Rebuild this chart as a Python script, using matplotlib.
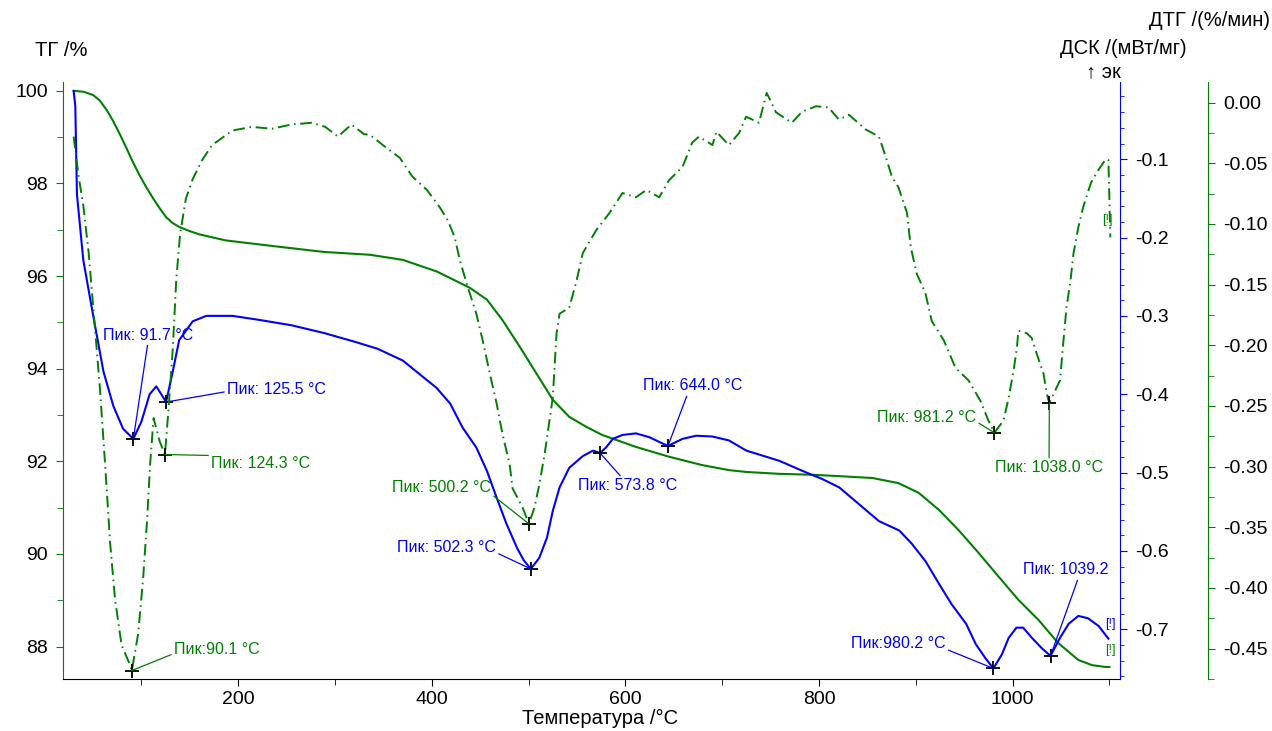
"""
Thermal analysis chart: TG, DSC and DTG against temperature.
Saves out.png (1272x731).
"""

import numpy as np
import matplotlib
matplotlib.use("Agg")
import matplotlib.pyplot as plt
from matplotlib.transforms import Affine2D
from matplotlib.ticker import MultipleLocator, FormatStrFormatter

# ── Colours ─────────────────────────────────────────────────────────────────
GREEN = "#008000"
BLUE = "#0000ff"
BLACK = "#000000"

W, H = 1272, 731

plt.rcParams.update({
    "font.family": ["Liberation Sans", "DejaVu Sans"],
    "axes.unicode_minus": False,
    "font.size": 14,
})

# ── Data ────────────────────────────────────────────────────────────────────
tg_t = [30, 40, 50, 57, 64, 71, 78, 84.6, 91, 98, 105, 112, 119, 125.6, 132,
        139, 150, 160, 187, 235, 289, 336, 370, 405, 439, 457, 473, 491, 508,
        525, 542, 560, 576, 611, 645, 679, 707, 725, 759, 793, 821, 855, 882,
        903, 924, 944, 965, 986, 1006, 1027, 1047, 1068, 1082, 1096, 1100]
tg_val = [100.0, 99.98, 99.91, 99.79, 99.59, 99.34, 99.05, 98.76, 98.47, 98.18,
          97.92, 97.68, 97.46, 97.27, 97.15, 97.06, 96.97, 96.9, 96.77, 96.65,
          96.52, 96.46, 96.35, 96.1, 95.75, 95.49, 95.05, 94.47, 93.9, 93.33,
          92.96, 92.74, 92.57, 92.31, 92.1, 91.92, 91.81, 91.77, 91.73, 91.71,
          91.68, 91.64, 91.53, 91.32, 90.95, 90.52, 90.02, 89.5, 89.01, 88.57,
          88.08, 87.71, 87.6, 87.56, 87.56]

dsc_t = [30, 31.7, 33.4, 40, 50.5, 60.8, 71, 81, 91.7, 100, 108.5, 115.4,
         120.5, 125.5, 132.4, 139, 153, 167, 194, 221, 255, 289, 323, 344,
         370, 405, 419, 432, 446, 457, 467, 477, 488, 495, 502.3, 511, 519,
         525, 532, 542, 556, 566.5, 573.8, 580, 587, 597, 611, 625, 638.6,
         644, 659, 673, 690, 707, 725, 759, 787, 803, 821, 841, 862, 883, 896,
         910, 924, 937, 952, 962, 972, 980.2, 989, 996, 1004, 1011, 1020,
         1030, 1039.2, 1049, 1058, 1068, 1078, 1089, 1099]
dsc_val = [-0.013, -0.032, -0.145, -0.229, -0.302, -0.371, -0.415, -0.444,
           -0.457, -0.435, -0.400, -0.390, -0.400, -0.410, -0.371, -0.331,
           -0.307, -0.300, -0.300, -0.305, -0.312, -0.322, -0.334, -0.342,
           -0.357, -0.392, -0.412, -0.443, -0.468, -0.498, -0.532, -0.565,
           -0.596, -0.612, -0.623, -0.609, -0.583, -0.549, -0.519, -0.494,
           -0.479, -0.472, -0.475, -0.468, -0.457, -0.452, -0.450, -0.455,
           -0.463, -0.466, -0.457, -0.453, -0.454, -0.459, -0.472, -0.485,
           -0.500, -0.508, -0.519, -0.540, -0.562, -0.574, -0.591, -0.613,
           -0.642, -0.668, -0.693, -0.719, -0.737, -0.750, -0.732, -0.711,
           -0.698, -0.698, -0.711, -0.724, -0.734, -0.711, -0.693, -0.683,
           -0.686, -0.696, -0.712]

dtg_t = [30, 35, 40, 45.4, 50.5, 57, 62.5, 67.6, 72.7, 79.5, 88, 90.1, 96.6,
         101.7, 105.8, 109, 112.6, 118.8, 124.3, 127.3, 132.4, 136, 140, 146,
         153, 163, 173, 194, 214, 235, 255, 276, 290, 303, 317, 330, 336,
         349.5, 367, 380, 395, 408, 416.5, 423.7, 429, 436, 446, 452.6, 460,
         467, 473, 480.4, 483.5, 494, 500.2, 506, 511, 516.5, 521.6, 525,
         526.8, 528.9, 532, 542, 549.5, 556, 570, 583.5, 597, 611, 621.6, 635,
         645, 659, 669, 676, 690, 694, 707, 717.5, 724.7, 738, 746, 755.6,
         772, 782.5, 797, 810, 820.6, 831, 848, 862, 869, 875.3, 882, 891,
         894.8, 901, 910, 916.5, 929, 941, 954.6, 967, 975, 981.2, 990.7, 996,
         1001, 1004.5, 1006, 1014.6, 1019.8, 1025, 1032, 1035.4, 1038, 1049,
         1052.6, 1055.7, 1059.8, 1063, 1068, 1073, 1081, 1088.7, 1095.9, 1099,
         1101]
dtg_val = [-0.028, -0.060, -0.085, -0.123, -0.171, -0.234, -0.298, -0.362,
           -0.409, -0.447, -0.463, -0.468, -0.438, -0.393, -0.345, -0.298,
           -0.260, -0.279, -0.290, -0.260, -0.203, -0.146, -0.108, -0.079,
           -0.063, -0.047, -0.035, -0.023, -0.020, -0.0215, -0.018, -0.0166,
           -0.020, -0.028, -0.018, -0.026, -0.0265, -0.035, -0.0455, -0.061,
           -0.072, -0.086, -0.097, -0.111, -0.130, -0.149, -0.174, -0.196,
           -0.2235, -0.248, -0.273, -0.298, -0.318, -0.334, -0.347, -0.334,
           -0.315, -0.290, -0.262, -0.243, -0.218, -0.190, -0.174, -0.169,
           -0.147, -0.124, -0.105, -0.091, -0.0745, -0.078, -0.072, -0.078,
           -0.064, -0.053, -0.033, -0.028, -0.035, -0.024, -0.035, -0.025,
           -0.0116, -0.0166, 0.008, -0.008, -0.0166, -0.0075, -0.003, -0.004,
           -0.014, -0.010, -0.022, -0.028, -0.0447, -0.061, -0.0695, -0.091,
           -0.119, -0.141, -0.157, -0.180, -0.196, -0.2185, -0.229, -0.246,
           -0.262, -0.272, -0.262, -0.243, -0.221, -0.202, -0.188, -0.190,
           -0.194, -0.207, -0.2235, -0.240, -0.2475, -0.229, -0.196, -0.169,
           -0.147, -0.124, -0.1025, -0.086, -0.066, -0.0555, -0.047, -0.047,
           -0.111]

# peak temperatures and their labels
dsc_peaks = [91.7, 125.5, 502.3, 573.8, 644.0, 980.2, 1039.2]
dsc_labels = ["Пик: 91.7 °C", "Пик: 125.5 °C", "Пик: 502.3 °C",
              "Пик: 573.8 °C", "Пик: 644.0 °C", "Пик:980.2 °C", "Пик: 1039.2"]
dtg_peaks = [90.1, 124.3, 500.2, 981.2, 1038.0]
dtg_labels = ["Пик:90.1 °C", "Пик: 124.3 °C", "Пик: 500.2 °C",
              "Пик: 981.2 °C", "Пик: 1038.0 °C"]

# label placement in image pixels: (left x, centre y, relpos of the leader)
dsc_label_pos = [(103, 335, (0.5, 0.1)), (227, 390, (0.0, 0.4)),
                 (397, 548, (1.0, 0.2)), (578, 486, (0.45, 1.0)),
                 (643, 386, (0.45, 0.0)), (851, 643, (1.0, 0.1)),
                 (1023, 570, (0.65, 0.0))]
dtg_label_pos = [(174, 649, (0.0, 0.2)), (211, 463, (0.0, 1.0)),
                 (392, 488, (1.0, 0.1)), (877, 417, (1.0, 0.2)),
                 (995, 468, (0.5, 1.0))]

# ── Figure ──────────────────────────────────────────────────────────────────
fig = plt.figure(figsize=(W / 100, H / 100), dpi=100)
fig.patch.set_facecolor("white")
ax = fig.add_axes([63 / W, 1 - 679 / H, (1120 - 63) / W, (679 - 82) / H])
ax2 = ax.twinx()
ax3 = ax.twinx()
PX = Affine2D().scale(1 / W, -1 / H).translate(0, 1) + fig.transFigure

ax.plot(tg_t, tg_val, color=GREEN, lw=1.5, zorder=3)
ax2.plot(dsc_t, dsc_val, color=BLUE, lw=1.5, zorder=3)
ax3.plot(dtg_t, dtg_val, color=GREEN, lw=1.4, linestyle=(0, (6, 2.4, 0.8, 2.4)),
         zorder=3)

# ── Axes limits / spines ────────────────────────────────────────────────────
ax.set_xlim(19, 1111)
ax.set_ylim(87.30, 100.19)
ax2.set_ylim(-0.7635, -0.0015)
ax3.set_ylim(-0.475, 0.017)

for s in ["top", "right"]:
    ax.spines[s].set_visible(False)
ax.spines["left"].set_color(GREEN)
ax.spines["bottom"].set_color(BLACK)
for a in (ax2, ax3):
    for s in ["top", "left", "bottom"]:
        a.spines[s].set_visible(False)
ax2.spines["right"].set_color(BLUE)
ax3.spines["right"].set_color(GREEN)
ax3.spines["right"].set_position(("axes", (1208 - 63) / (1120 - 63)))

ax.xaxis.set_major_locator(MultipleLocator(200))
ax.xaxis.set_minor_locator(MultipleLocator(100))
ax.yaxis.set_major_locator(MultipleLocator(2))
ax.yaxis.set_minor_locator(MultipleLocator(1))
ax2.yaxis.set_major_locator(MultipleLocator(0.1))
ax2.yaxis.set_minor_locator(MultipleLocator(0.02))
ax2.yaxis.set_major_formatter(FormatStrFormatter("%.1f"))
ax3.yaxis.set_major_locator(MultipleLocator(0.05))
ax3.yaxis.set_minor_locator(MultipleLocator(0.025))
ax3.yaxis.set_major_formatter(FormatStrFormatter("%.2f"))

TICK_FS = 14
ax.tick_params(axis="x", which="both", direction="out", colors=BLACK,
               labelsize=TICK_FS, pad=4)
ax.tick_params(axis="x", which="major", length=5)
ax.tick_params(axis="x", which="minor", length=4)
ax.tick_params(axis="y", which="both", direction="out", color=GREEN,
               labelcolor=BLACK, labelsize=TICK_FS, pad=6)
ax.tick_params(axis="y", which="major", length=5)
ax.tick_params(axis="y", which="minor", length=4)
ax2.tick_params(axis="y", which="both", direction="out", color=BLUE,
                labelcolor=BLACK, labelsize=TICK_FS, pad=6)
ax2.tick_params(axis="y", which="major", length=5)
ax2.tick_params(axis="y", which="minor", length=3)
ax3.tick_params(axis="y", which="both", direction="out", color=GREEN,
                labelcolor=BLACK, labelsize=TICK_FS, pad=6)
ax3.tick_params(axis="y", which="major", length=5)
ax3.tick_params(axis="y", which="minor", length=4)

# ── Peak markers and labels ─────────────────────────────────────────────────
def mark_peaks(a, xs, ys, peaks, labels, positions, colour):
    for t, lab, (px, py, rel) in zip(peaks, labels, positions):
        v = np.interp(t, xs, ys)
        a.plot(t, v, "+", color=BLACK, ms=10, mew=1.3, zorder=6)
        a.annotate(lab, xy=(t, v), xycoords="data", xytext=(px, py),
                   textcoords=PX, ha="left", va="center", fontsize=11.5,
                   color=colour, zorder=7, annotation_clip=False,
                   arrowprops=dict(arrowstyle="-", color=colour, lw=0.9,
                                   shrinkA=0, shrinkB=0, relpos=rel))

mark_peaks(ax2, dsc_t, dsc_val, dsc_peaks, dsc_labels, dsc_label_pos, BLUE)
mark_peaks(ax3, dtg_t, dtg_val, dtg_peaks, dtg_labels, dtg_label_pos, GREEN)

# end-of-curve flags
fig.text(1107, 220, "[!]", transform=PX, fontsize=9, color=GREEN,
         ha="center", va="center")
fig.text(1110, 624, "[!]", transform=PX, fontsize=9, color=BLUE,
         ha="center", va="center")
fig.text(1110, 650, "[!]", transform=PX, fontsize=9, color=GREEN,
         ha="center", va="center")

# ── Axis titles ─────────────────────────────────────────────────────────────
TITLE_FS = 14.5
fig.text(35, 50, "ТГ /%", transform=PX, fontsize=TITLE_FS, ha="left",
         va="center")
fig.text(1270, 20, "ДТГ /(%/мин)", transform=PX, fontsize=TITLE_FS,
         ha="right", va="center")
fig.text(1187, 48, "ДСК /(мВт/мг)", transform=PX, fontsize=TITLE_FS,
         ha="right", va="center")
fig.text(1121, 72, "↑ эк", transform=PX, fontsize=TITLE_FS, ha="right",
         va="center")
fig.text(600, 718, "Температура /°C", transform=PX, fontsize=TITLE_FS,
         ha="center", va="center")

fig.savefig("out.png", dpi=100)
plt.close(fig)
